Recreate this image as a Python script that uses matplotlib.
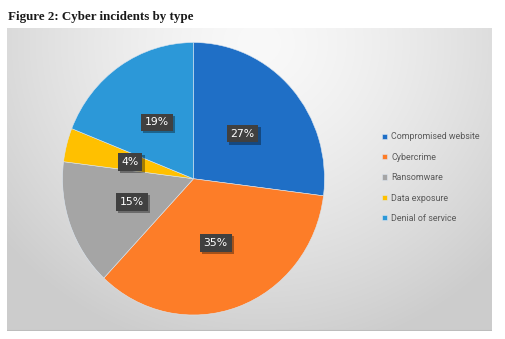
"""Figure 2: Cyber incidents by type -- Excel-style pie on grey gradient."""
import matplotlib
matplotlib.use('Agg')
import matplotlib.pyplot as plt
import matplotlib.patheffects as pe
import numpy as np

# --- data ---
categories = ['Compromised website', 'Cybercrime', 'Ransomware',
              'Data exposure', 'Denial of service']
shares = [27, 35, 15, 4, 19]
colors = ['#1F6FC6', '#FD7D28', '#A5A5A5', '#FFC000', '#2C98D8']

fig = plt.figure(figsize=(5.05, 3.39), dpi=100)
fig.patch.set_facecolor('white')

# --- chart area with radial grey gradient ---
W, H = 505, 339
x0, x1, y0, y1 = 7, 492, 28, 331
bg = fig.add_axes([x0 / W, (H - y1) / H, (x1 - x0) / W, (y1 - y0) / H])
gx, gy = np.meshgrid(np.linspace(0, 1, 400), np.linspace(0, 1, 260))
d = np.sqrt(((gx - 0.52) / 0.65) ** 2 + ((gy - 0.05) / 1.0) ** 2)
g = (249 - 42 * np.clip(d, 0, 1.05) ** 1.4) / 255
bg.imshow(np.dstack([g, g, g]), aspect='auto', extent=(0, 1, 1, 0),
          interpolation='bilinear')
bg.set_xlim(0, 1)
bg.set_ylim(1, 0)
bg.axis('off')
bg.plot([0, 1], [0.997, 0.997], color='#BDBDBD', lw=0.8)

# --- pie ---
px0, px1, py0, py1 = 62.5, 324.5, 42.5, 315
ax = fig.add_axes([px0 / W, (H - py1) / H, (px1 - px0) / W, (py1 - py0) / H])
wedges, _, autotexts = ax.pie(
    shares, colors=colors, startangle=90, counterclock=False,
    autopct='%d%%', pctdistance=0.5,
    wedgeprops=dict(edgecolor='#DCE6F0', linewidth=0.4))
ax.set_aspect('auto')
ax.set_xlim(-1, 1)
ax.set_ylim(-1, 1)

for t in autotexts:
    t.set_color('white')
    t.set_fontsize(7.8)
    t.set_fontfamily('DejaVu Sans')
    t.set_bbox(dict(boxstyle='square,pad=0.35', facecolor='#404040',
                    edgecolor='none'))
    t.get_bbox_patch().set_path_effects(
        [pe.SimplePatchShadow(offset=(1.5, -1.5), shadow_rgbFace='black',
                              alpha=0.35), pe.Normal()])

leg = fig.legend(wedges, categories, loc='upper left',
                 bbox_to_anchor=(378 / W, 1 - 128 / H), frameon=False,
                 prop=dict(family='Roboto', size=6.4),
                 handlelength=0.55, handleheight=0.55, handletextpad=0.45,
                 labelspacing=1.28, borderpad=0)
for t in leg.get_texts():
    t.set_color('#595959')

fig.text(8 / W, 1 - 20 / H, 'Figure 2: Cyber incidents by type',
         fontsize=9.4, fontweight='bold', family='Liberation Serif',
         color='#1a1a1a', ha='left', va='baseline')

fig.savefig('out.png', dpi=100)
